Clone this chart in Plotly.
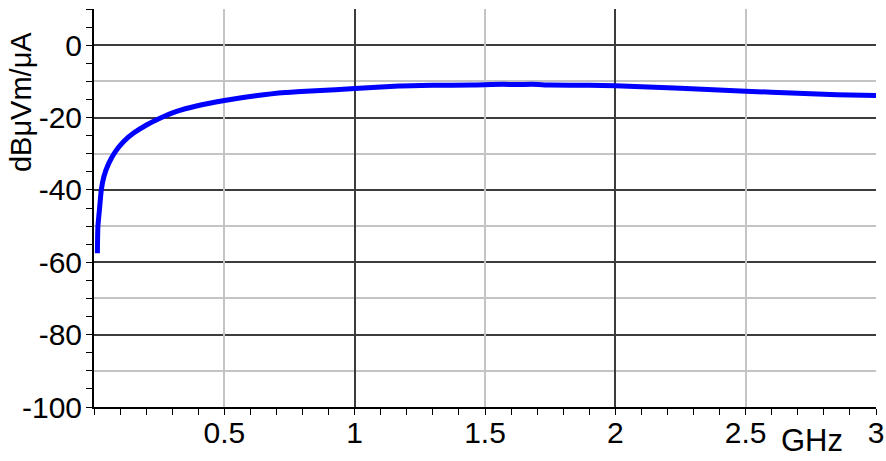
import plotly.graph_objects as go

# Data
freq_ghz = [0.013, 0.015, 0.022, 0.028, 0.038, 0.057, 0.082, 0.114, 0.152, 0.203,
            0.253, 0.317, 0.393, 0.5, 0.62, 0.734, 0.85, 1.0, 1.17, 1.3, 1.45,
            1.57, 1.62, 1.68, 1.75, 1.9, 2.0, 2.1, 2.25, 2.5, 2.7, 2.85, 3.0]
gain_db = [-57.5, -50.1, -44.6, -40.0, -36.3, -32.6, -29.4, -26.6, -24.3, -22.0,
           -20.2, -18.3, -16.8, -15.3, -14.0, -13.1, -12.6, -12.0, -11.3, -11.1, -11.0,
           -10.8, -10.9, -10.8, -11.0, -11.1, -11.2, -11.5, -11.9, -12.7, -13.3, -13.7, -13.9]

x_tick_vals = [0.5, 1, 1.5, 2, 2.5, 3]
x_tick_text = ["0.5", "1", "1.5", "2", "2.5", "3"]
x_light_grid = [0.5, 1.5, 2.5]
x_dark_grid = [1, 2, 3]
y_tick_vals = [0, -20, -40, -60, -80, -100]
y_tick_text = ["0", "-20", "-40", "-60", "-80", "-100"]
y_light_grid = [10, -10, -30, -50, -70, -90]
y_dark_grid = [0, -20, -40, -60, -80]

FONT = "Liberation Sans, Arial, sans-serif"
DARK = "#3c3c3c"
LIGHT = "#c4c4c4"

fig = go.Figure()
fig.add_trace(go.Scatter(x=freq_ghz, y=gain_db, mode="lines",
                         line=dict(color="#0000ff", width=5, shape="spline", smoothing=0.5),
                         xaxis="x", yaxis="y", showlegend=False, hoverinfo="skip"))
# invisible traces to activate overlay axes
for xa, ya in [("x2", "y"), ("x3", "y"), ("x", "y2"), ("x", "y3")]:
    fig.add_trace(go.Scatter(x=[None], y=[None], xaxis=xa, yaxis=ya, showlegend=False))

fig.update_layout(
    width=886, height=461,
    margin=dict(l=94, r=10, t=9, b=54),
    paper_bgcolor="white", plot_bgcolor="white",
    font=dict(family=FONT, size=30, color="black"),
    xaxis=dict(range=[0, 3], tickvals=x_tick_vals, ticktext=x_tick_text, automargin=False,
               showgrid=False, zeroline=False, showline=True, linecolor="black", linewidth=2,
               ticks="outside", ticklen=6, tickwidth=1, tickcolor="black",
               ticklabelstandoff=-8,
               minor=dict(dtick=0.1, tick0=0, ticks="outside", ticklen=6, tickcolor="black", showgrid=False),
               tickfont=dict(size=30)),
    xaxis2=dict(range=[0, 3], overlaying="x", tickvals=x_light_grid, showgrid=True, automargin=False,
                gridcolor=LIGHT, gridwidth=2, showticklabels=False, ticks="", zeroline=False),
    xaxis3=dict(range=[0, 3], overlaying="x", tickvals=x_dark_grid, showgrid=True, automargin=False,
                gridcolor=DARK, gridwidth=2, showticklabels=False, ticks="", zeroline=False),
    yaxis=dict(range=[-100, 10], tickvals=y_tick_vals, ticktext=y_tick_text, automargin=False,
               showgrid=False, zeroline=False, showline=True, linecolor="black", linewidth=2,
               ticks="outside", ticklen=6, tickwidth=1, tickcolor="black",
               ticklabelstandoff=-2,
               minor=dict(dtick=5, tick0=0, ticks="outside", ticklen=6, tickcolor="black", showgrid=False),
               tickfont=dict(size=30)),
    yaxis2=dict(range=[-100, 10], overlaying="y", tickvals=y_light_grid, showgrid=True, automargin=False,
                gridcolor=LIGHT, gridwidth=2, showticklabels=False, ticks="", zeroline=False),
    yaxis3=dict(range=[-100, 10], overlaying="y", tickvals=y_dark_grid, showgrid=True, automargin=False,
                gridcolor=DARK, gridwidth=2, showticklabels=False, ticks="", zeroline=False),
    annotations=[
        dict(text="dBμVm/μA", textangle=-90, xref="paper", yref="paper",
             x=-0.0934, y=0.766, xanchor="center", yanchor="middle",
             showarrow=False, font=dict(size=29)),
        dict(text="GHz", xref="paper", yref="paper", x=0.918, y=-0.083,
             xanchor="center", yanchor="middle", showarrow=False, font=dict(size=31)),
    ],
)

fig.write_html("out.html", config={"displayModeBar": False},
               post_script="document.body.style.margin='0';")
